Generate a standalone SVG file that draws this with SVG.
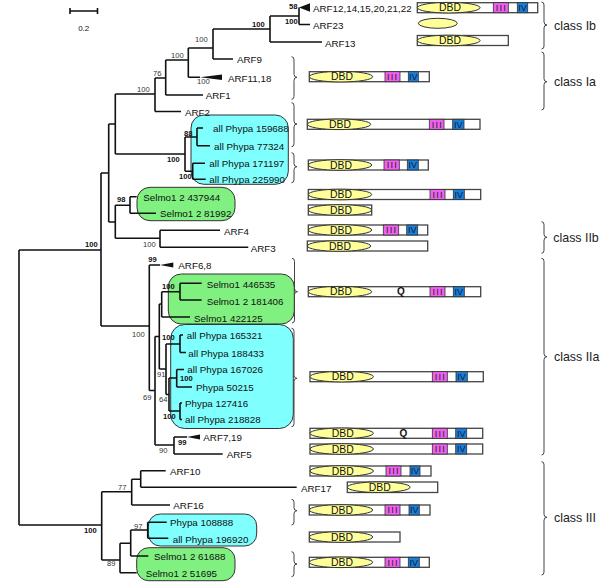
<svg xmlns="http://www.w3.org/2000/svg" width="600" height="582" viewBox="0 0 600 582">
<style>
text{font-family:"Liberation Sans",Arial,sans-serif;fill:#111}
.lf{font-size:9.8px}
.bs{font-size:7.6px;fill:#333}
.bb{font-size:7.6px;font-weight:bold}
.cl{font-size:12.4px;fill:#222}
.tree{fill:none;stroke:#111;stroke-width:1.6}
.wedge{fill:#111}
.cy{fill:#80FFFF;stroke:#333;stroke-width:1}
.gr{fill:#80F080;stroke:#333;stroke-width:1}
.brace{fill:none;stroke:#444;stroke-width:1}
.dom{fill:#fff;stroke:#444;stroke-width:1.3}
.dbd{fill:#FFFF99;stroke:#333;stroke-width:1}
.dt{font-size:10.4px;text-anchor:middle}
.m3{fill:#F060F0;stroke:#333;stroke-width:0.8}
.m4{fill:#1A7ED6;stroke:#333;stroke-width:0.8}
.t3{font-size:9px;text-anchor:middle;letter-spacing:1.2px;fill:#222}
.t4{font-size:9px;text-anchor:middle;fill:#0a1a40}
.q{font-size:10px;font-weight:bold;text-anchor:middle}
</style>

<g id="scale">
<path class="tree" d="M70,11 H97.5 M70,8 V14 M97.5,8 V14" stroke-width="1.3"/>
<text x="83.7" y="30.5" font-size="8" text-anchor="middle" fill="#333">0.2</text>
</g>

<g id="clade-boxes">
<rect id="box-phypa1" class="cy" x="191" y="115" width="97.3" height="69.3" rx="13"/>
<rect id="box-selmo1" class="gr" x="137" y="187.3" width="98" height="33.4" rx="13"/>
<rect id="box-selmo2" class="gr" x="168.3" y="274" width="126" height="50" rx="13"/>
<rect id="box-phypa2" class="cy" x="170.7" y="324.5" width="122.6" height="104" rx="14"/>
<rect id="box-phypa3" class="cy" x="148.3" y="514" width="108.4" height="32" rx="12"/>
<rect id="box-selmo3" class="gr" x="136.7" y="547.7" width="98.3" height="33" rx="12"/>
</g>

<g id="connectors">
<path class="tree" d="
M19,250 V525 M19,250 H101 M19,525 H101.7
M101,173 V326 M101,173 H108.7 M101,326 H149.3
M108.7,124 V222 M108.7,124 H115.3 M108.7,222 H115.3
M115.3,94 V154 M115.3,94 H155 M115.3,154 H185
M155,78 V111.5 M155,78 H165.7 M155,111.5 H181
M165.7,60 V95 M165.7,60 H188.3 M165.7,95 H203
M188.3,48 V77.3 M188.3,48 H213 M188.3,77.3 H200
M213,29 V59 M213,29 H270 M213,59 H233
M270,16 V42 M270,16 H299 M270,42 H322
M299,7.5 V24.5 M299,24.5 H310
M185,137 V171.3 M185,137 H197 M185,171.3 H192.7
M197,128 V145.7 M197,128 H203 M197,145.7 H210
M192.7,163.3 V179.3 M192.7,163.3 H205 M192.7,179.3 H205.7
M115.3,205.3 V238.3 M115.3,205.3 H130 M115.3,238.3 H160
M130,196.7 V213.3 M130,196.7 H136.7 M130,213.3 H156
M160,230.3 V247.3 M160,230.3 H220 M160,247.3 H248.3
M149.3,265 V390.5 M149.3,265 H160 M149.3,390.5 H155
M155,336.5 V445 M155,336.5 H159.3 M155,445 H174
M159.3,304 V369 M159.3,304 H161.7 M159.3,369 H166
M161.7,291.7 V317 M161.7,291.7 H180 M161.7,317 H190
M180,283.3 V300 M180,283.3 H201.7 M180,300 H201.7
M166,344 V394.5 M166,344 H180 M166,394.5 H169
M180,335 V352.5 M180,335 H183 M180,352.5 H186
M169,378 V411 M169,378 H176.7 M169,411 H180
M176.7,369.5 V387 M176.7,369.5 H184 M176.7,387 H192
M180,403 V419.5 M180,403 H182 M180,419.5 H182
M174,437 V454 M174,437 H187 M174,454 H222.7
M101.7,491.7 V560 M101.7,491.7 H131.7 M101.7,560 H120
M131.7,479.3 V505 M131.7,479.3 H140.7 M131.7,505 H170
M140.7,470.7 V487.3 M140.7,470.7 H165.7 M140.7,487.3 H296.7
M120,543.3 V572.7 M120,543.3 H130.7 M120,572.7 H136.7
M130.7,530 V556 M130.7,530 H147.7 M130.7,556 H148.3
M147.7,522.3 V538.3 M147.7,522.3 H166.7 M147.7,538.3 H168.3"/>
<polygon class="wedge" points="299,7.5 310,3.3 310,11.7"/>
<polygon class="wedge" points="200,77.3 222,74.5 222,80"/>
<polygon class="wedge" points="160,265 173.3,262.5 173.3,267.5"/>
<polygon class="wedge" points="187,437 200,434.5 200,439.5"/>
</g>

<g id="support-values">
<text class="bb" x="85" y="247">100</text>
<text class="bb" x="84" y="533">100</text>
<text class="bs" x="132" y="337">100</text>
<text class="bs" x="137" y="92">100</text>
<text class="bb" x="167" y="162">100</text>
<text class="bs" x="153" y="76">76</text>
<text class="bs" x="171" y="58">100</text>
<text class="bs" x="195" y="42">100</text>
<text class="bs" x="197" y="84">100</text>
<text class="bb" x="252" y="26.7">100</text>
<text class="bb" x="285" y="24">100</text>
<text class="bb" x="289" y="8.5">58</text>
<text class="bb" x="184" y="135.5">88</text>
<text class="bb" x="179" y="179">100</text>
<text class="bb" x="117" y="202">98</text>
<text class="bs" x="143" y="247">100</text>
<text class="bb" x="148.3" y="262">99</text>
<text class="bs" x="143" y="399.5">69</text>
<text class="bs" x="159" y="453">90</text>
<text class="bs" x="157" y="377">91</text>
<text class="bb" x="162" y="289">100</text>
<text class="bb" x="162" y="340">100</text>
<text class="bs" x="159" y="402">64</text>
<text class="bb" x="180" y="380.5">100</text>
<text class="bb" x="163" y="418.5">100</text>
<text class="bb" x="178" y="445">99</text>
<text class="bs" x="118" y="490">77</text>
<text class="bs" x="107" y="566">89</text>
<text class="bs" x="134" y="529">97</text>
</g>

<g id="leaves" class="lf">
<g id="leaf-ARF12"><text class="lf" x="313" y="11.5">ARF12,14,15,20,21,22</text></g>
<g id="leaf-ARF23"><text class="lf" x="313" y="29">ARF23</text></g>
<g id="leaf-ARF13"><text class="lf" x="325" y="46.5">ARF13</text></g>
<g id="leaf-ARF9"><text class="lf" x="237" y="63">ARF9</text></g>
<g id="leaf-ARF11"><text class="lf" x="228" y="81.5">ARF11,18</text></g>
<g id="leaf-ARF1"><text class="lf" x="205.7" y="99">ARF1</text></g>
<g id="leaf-ARF2"><text class="lf" x="185" y="115.5">ARF2</text></g>
<g id="leaf-P159688"><text class="lf" x="213" y="132">all Phypa 159688</text></g>
<g id="leaf-P77324"><text class="lf" x="214" y="149.5">all Phypa 77324</text></g>
<g id="leaf-P171197"><text class="lf" x="209.3" y="167">all Phypa 171197</text></g>
<g id="leaf-P225990"><text class="lf" x="209.3" y="183">all Phypa 225990</text></g>
<g id="leaf-S437944"><text class="lf" x="143.3" y="200.5">Selmo1 2 437944</text></g>
<g id="leaf-S81992"><text class="lf" x="160" y="217">Selmo1 2 81992</text></g>
<g id="leaf-ARF4"><text class="lf" x="224" y="234.5">ARF4</text></g>
<g id="leaf-ARF3"><text class="lf" x="250.7" y="251.7">ARF3</text></g>
<g id="leaf-ARF6"><text class="lf" x="178.3" y="269">ARF6,8</text></g>
<g id="leaf-S446535"><text class="lf" x="206.7" y="287.5">Selmo1 446535</text></g>
<g id="leaf-S181406"><text class="lf" x="206.7" y="304.5">Selmo1 2 181406</text></g>
<g id="leaf-S422125"><text class="lf" x="194" y="321.5">Selmo1 422125</text></g>
<g id="leaf-P165321"><text class="lf" x="186.7" y="339">all Phypa 165321</text></g>
<g id="leaf-P188433"><text class="lf" x="188.3" y="356.7">all Phypa 188433</text></g>
<g id="leaf-P167026"><text class="lf" x="187.3" y="373.3">all Phypa 167026</text></g>
<g id="leaf-P50215"><text class="lf" x="196" y="390.7">Phypa 50215</text></g>
<g id="leaf-P127416"><text class="lf" x="185" y="406.7">Phypa 127416</text></g>
<g id="leaf-P218828"><text class="lf" x="185" y="423.3">all Phypa 218828</text></g>
<g id="leaf-ARF7"><text class="lf" x="203.3" y="441">ARF7,19</text></g>
<g id="leaf-ARF5"><text class="lf" x="226.7" y="457.5">ARF5</text></g>
<g id="leaf-ARF10"><text class="lf" x="170" y="475">ARF10</text></g>
<g id="leaf-ARF17"><text class="lf" x="301" y="491.7">ARF17</text></g>
<g id="leaf-ARF16"><text class="lf" x="173.3" y="509.3">ARF16</text></g>
<g id="leaf-P108888"><text class="lf" x="170" y="526">Phypa 108888</text></g>
<g id="leaf-P196920"><text class="lf" x="172.7" y="542.5">all Phypa 196920</text></g>
<g id="leaf-S61688"><text class="lf" x="154" y="560">Selmo1 2 61688</text></g>
<g id="leaf-S51695"><text class="lf" x="145.7" y="577">Selmo1 2 51695</text></g>
</g>

<g id="domains">
<g id="dom1"><rect class="dom" x="417.3" y="2.7" width="120.4" height="10"/><ellipse class="dbd" cx="448.7" cy="7.7" rx="31.4" ry="5.3"/><text class="dt" x="450" y="11.4">DBD</text><rect class="m3" x="493.3" y="2.7" width="15" height="10"/><text class="t3" x="501.4" y="11">III</text><rect class="m4" x="517.3" y="2.7" width="10.4" height="10"/><text class="t4" x="522.5" y="11">IV</text></g>
<g id="dom2"><ellipse class="dbd" cx="437.8" cy="23.3" rx="19.5" ry="5"/></g>
<g id="dom3"><rect class="dom" x="417.3" y="35.5" width="91" height="10"/><ellipse class="dbd" cx="448.7" cy="40.5" rx="31.4" ry="5.3"/><text class="dt" x="450" y="44.2">DBD</text></g>
<g id="dom4"><rect class="dom" x="309.3" y="71.7" width="120" height="10"/><ellipse class="dbd" cx="341" cy="76.7" rx="31.7" ry="5.3"/><text class="dt" x="342" y="80.4">DBD</text><rect class="m3" x="385" y="71.7" width="15" height="10"/><text class="t3" x="493.1" y="80" transform="translate(-100.5 0)">III</text><rect class="m4" x="408.3" y="71.7" width="10" height="10"/><text class="t4" x="413.3" y="80">IV</text></g>
<g id="dom5"><rect class="dom" x="307.3" y="119.3" width="172.7" height="10"/><ellipse class="dbd" cx="339" cy="124.3" rx="31.7" ry="5.3"/><text class="dt" x="340" y="128">DBD</text><rect class="m3" x="429.3" y="119.3" width="14.7" height="10"/><text class="t3" x="437.3" y="127.6">III</text><rect class="m4" x="452.7" y="119.3" width="11.3" height="10"/><text class="t4" x="458.3" y="127.6">IV</text></g>
<g id="dom6"><rect class="dom" x="308.3" y="160" width="120" height="10"/><ellipse class="dbd" cx="340" cy="165" rx="31.7" ry="5.3"/><text class="dt" x="341" y="168.7">DBD</text><rect class="m3" x="384" y="160" width="15.3" height="10"/><text class="t3" x="392.3" y="168.3">III</text><rect class="m4" x="407.3" y="160" width="11" height="10"/><text class="t4" x="412.8" y="168.3">IV</text></g>
<g id="dom7"><rect class="dom" x="308.3" y="189.5" width="172.4" height="10"/><ellipse class="dbd" cx="340" cy="194.5" rx="31.7" ry="5.3"/><text class="dt" x="341" y="198.2">DBD</text><rect class="m3" x="430" y="189.5" width="15" height="10"/><text class="t3" x="438.1" y="197.8">III</text><rect class="m4" x="453.3" y="189.5" width="11" height="10"/><text class="t4" x="458.8" y="197.8">IV</text></g>
<g id="dom8"><rect class="dom" x="308.3" y="205" width="63.4" height="10"/><ellipse class="dbd" cx="340" cy="210" rx="31.7" ry="5.3"/><text class="dt" x="341" y="213.7">DBD</text></g>
<g id="dom9"><rect class="dom" x="308.3" y="225" width="119.4" height="10"/><ellipse class="dbd" cx="340" cy="230" rx="31.7" ry="5.3"/><text class="dt" x="341" y="233.7">DBD</text><rect class="m3" x="383.3" y="225" width="15.4" height="10"/><text class="t3" x="391.6" y="233.3">III</text><rect class="m4" x="406.7" y="225" width="11" height="10"/><text class="t4" x="412.2" y="233.3">IV</text></g>
<g id="dom10"><rect class="dom" x="307.3" y="241" width="120.4" height="10"/><ellipse class="dbd" cx="339" cy="246" rx="31.7" ry="5.3"/><text class="dt" x="340" y="249.7">DBD</text></g>
<g id="dom11"><rect class="dom" x="308.3" y="286.7" width="172.4" height="10"/><ellipse class="dbd" cx="340" cy="291.7" rx="31.7" ry="5.3"/><text class="dt" x="341" y="295.4">DBD</text><text class="q" x="401" y="295.4">Q</text><rect class="m3" x="430" y="286.7" width="15" height="10"/><text class="t3" x="438.1" y="295">III</text><rect class="m4" x="453.3" y="286.7" width="11" height="10"/><text class="t4" x="458.8" y="295">IV</text></g>
<g id="dom12"><rect class="dom" x="310" y="371.7" width="173.3" height="10"/><ellipse class="dbd" cx="341.7" cy="376.7" rx="31.7" ry="5.3"/><text class="dt" x="342.7" y="380.4">DBD</text><rect class="m3" x="432.3" y="371.7" width="15" height="10"/><text class="t3" x="440.4" y="380">III</text><rect class="m4" x="456" y="371.7" width="11.3" height="10"/><text class="t4" x="461.6" y="380">IV</text></g>
<g id="dom13"><rect class="dom" x="310" y="428.3" width="172.7" height="10"/><ellipse class="dbd" cx="341.7" cy="433.3" rx="31.7" ry="5.3"/><text class="dt" x="342.7" y="437">DBD</text><text class="q" x="403.3" y="437">Q</text><rect class="m3" x="432.3" y="428.3" width="15" height="10"/><text class="t3" x="440.4" y="436.6">III</text><rect class="m4" x="455.7" y="428.3" width="11" height="10"/><text class="t4" x="461.2" y="436.6">IV</text></g>
<g id="dom14"><rect class="dom" x="310" y="444" width="172.7" height="10"/><ellipse class="dbd" cx="341.7" cy="449" rx="31.7" ry="5.3"/><text class="dt" x="342.7" y="452.7">DBD</text><rect class="m3" x="432.3" y="444" width="15" height="10"/><text class="t3" x="440.4" y="452.3">III</text><rect class="m4" x="455.7" y="444" width="11" height="10"/><text class="t4" x="461.2" y="452.3">IV</text></g>
<g id="dom15"><rect class="dom" x="310" y="466" width="121" height="10"/><ellipse class="dbd" cx="341.7" cy="471" rx="31.7" ry="5.3"/><text class="dt" x="342.7" y="474.7">DBD</text><rect class="m3" x="386" y="466" width="15" height="10"/><text class="t3" x="394.1" y="474.3">III</text><rect class="m4" x="410" y="466" width="10" height="10"/><text class="t4" x="415" y="474.3">IV</text></g>
<g id="dom16"><rect class="dom" x="347.3" y="482" width="90.4" height="10.5"/><ellipse class="dbd" cx="378.7" cy="487.2" rx="31.4" ry="5.3"/><text class="dt" x="379.7" y="490.9">DBD</text></g>
<g id="dom17"><rect class="dom" x="309.3" y="505" width="120.7" height="10"/><ellipse class="dbd" cx="341" cy="510" rx="31.7" ry="5.3"/><text class="dt" x="342" y="513.7">DBD</text><rect class="m3" x="385" y="505" width="15" height="10"/><text class="t3" x="393.1" y="513.3">III</text><rect class="m4" x="409" y="505" width="10.3" height="10"/><text class="t4" x="414.2" y="513.3">IV</text></g>
<g id="dom18"><rect class="dom" x="309.3" y="532" width="90.7" height="10"/><ellipse class="dbd" cx="341" cy="537" rx="31.7" ry="5.3"/><text class="dt" x="342" y="540.7">DBD</text></g>
<g id="dom19"><rect class="dom" x="309.3" y="557.3" width="120" height="10"/><ellipse class="dbd" cx="341" cy="562.3" rx="31.7" ry="5.3"/><text class="dt" x="342" y="566">DBD</text><rect class="m3" x="385" y="557.3" width="15" height="10"/><text class="t3" x="393.1" y="565.6">III</text><rect class="m4" x="408.3" y="557.3" width="11" height="10"/><text class="t4" x="413.8" y="565.6">IV</text></g>
</g>

<g id="braces">
<path class="brace" d="M291.5,56.7 Q294,56.7 294,59.7 L294,74.3 Q294,77.3 297,77.3 Q294,77.3 294,80.3 L294,96.3 Q294,99.3 291.5,99.3"/>
<path class="brace" d="M291.5,102.7 Q294,102.7 294,105.7 L294,121 Q294,124 297,124 Q294,124 294,127 L294,143.7 Q294,146.7 291.5,146.7"/>
<path class="brace" d="M291.5,152.7 Q294,152.7 294,155.7 L294,163.7 Q294,166.7 297,166.7 Q294,166.7 294,169.7 L294,179.7 Q294,182.7 291.5,182.7"/>
<path class="brace" d="M292,258.3 Q294.5,258.3 294.5,261.3 L294.5,288.7 Q294.5,291.7 297.5,291.7 Q294.5,291.7 294.5,294.7 L294.5,320 Q294.5,323 292,323"/>
<path class="brace" d="M291.5,328.3 Q294,328.3 294,331.3 L294,375.3 Q294,378.3 297,378.3 Q294,378.3 294,381.3 L294,423.7 Q294,426.7 291.5,426.7"/>
<path class="brace" d="M291.5,499.3 Q294,499.3 294,502.3 L294,507.7 Q294,510.7 297,510.7 Q294,510.7 294,513.7 L294,522 Q294,525 291.5,525"/>
<path class="brace" d="M291.5,551.7 Q294,551.7 294,554.7 L294,561 Q294,564 297,564 Q294,564 294,567 L294,573.7 Q294,576.7 291.5,576.7"/>
<path class="brace" d="M541.5,2 Q544,2 544,5 L544,22 Q544,25 547,25 Q544,25 544,28 L544,46 Q544,49 541.5,49"/>
<path class="brace" d="M541.5,52 Q544,52 544,55 L544,78.7 Q544,81.7 547,81.7 Q544,81.7 544,84.7 L544,107 Q544,110 541.5,110"/>
<path class="brace" d="M541.5,221.7 Q544,221.7 544,224.7 L544,234.3 Q544,237.3 547,237.3 Q544,237.3 544,240.3 L544,250.3 Q544,253.3 541.5,253.3"/>
<path class="brace" d="M541.5,258.3 Q544,258.3 544,261.3 L544,353.7 Q544,356.7 547,356.7 Q544,356.7 544,359.7 L544,452 Q544,455 541.5,455"/>
<path class="brace" d="M541.5,461.7 Q544,461.7 544,464.7 L544,514.3 Q544,517.3 547,517.3 Q544,517.3 544,520.3 L544,572 Q544,575 541.5,575"/>
</g>

<g id="class-labels">
<text class="cl" x="554" y="29.5">class Ib</text>
<text class="cl" x="554" y="86">class Ia</text>
<text class="cl" x="553.3" y="241.7">class IIb</text>
<text class="cl" x="554" y="361">class IIa</text>
<text class="cl" x="554" y="521.7">class III</text>
</g>
</svg>
